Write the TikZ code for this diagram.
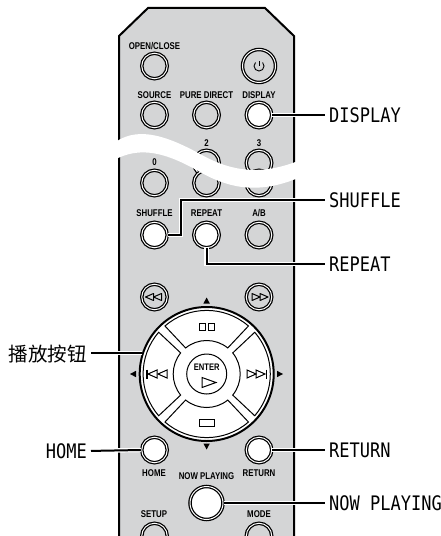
\documentclass[tikz,border=0pt]{standalone}
\usepackage{fontspec}
\usetikzlibrary{calc}
\setmainfont{Liberation Sans}
\newfontfamily\btnf[FakeStretch=0.8]{Liberation Sans}
\newfontfamily\callf[FakeStretch=0.85]{DejaVu Sans Mono}
\newfontfamily\cjkf{Noto Sans CJK SC}
\definecolor{panel}{HTML}{D4D5D6}
\tikzset{
  btn/.style={circle,draw=black,line width=1.25bp,double=white,double distance=1bp,fill=panel,inner sep=0pt,minimum size=25.5bp},
  hot/.style={btn,fill=white},
  big/.style={btn,minimum size=33bp},
  lab/.style={font=\btnf\bfseries\fontsize{9.8bp}{10bp}\selectfont,inner sep=0pt,text=black},
  call/.style={font=\callf\fontsize{20bp}{20bp}\selectfont,inner sep=0pt,text=black,anchor=west},
  conn/.style={draw=black,line width=2bp,shorten >=4bp,preaction={draw=white,line width=4.4bp}},
  thin/.style={draw=black,line width=1bp,line join=miter},
  tip/.style={fill=black,draw=none},
  glyph/.style={draw=black,line width=1bp,fill=white}
}
\begin{document}
\begin{tikzpicture}[x=1bp,y=-1bp]
\useasboundingbox (0,0) rectangle (441,536);
\clip (0,0) rectangle (441,536);
\fill[white] (0,0) rectangle (441,536);
% body
\filldraw[fill=panel,draw=black,line width=2bp,line join=miter]
  (119,545) -- (119,36) -- (148,8) -- (265,8) -- (294,36) -- (294,545);
% buttons
\node[btn] (open) at (154.5,66) {};
\node[big] (power) at (259,66) {};
\node[btn] (source) at (154.5,115) {};
\node[btn] (pure) at (206.5,115) {};
\node[hot] (display) at (259,115) {};
\node[btn] (two) at (206.5,163) {};
\node[btn] (three) at (259,163) {};
\node[btn] (zero) at (154.5,183) {};
\node[btn] (one) at (206.5,183) {};
\node[btn] (six) at (259,183) {};
\node[hot] (shuffle) at (154.5,235) {};
\node[hot] (repeat) at (206.5,235) {};
\node[btn] (ab) at (259,235) {};
\node[btn] (rew) at (154.5,297) {};
\node[btn] (ffw) at (259,297) {};
\node[hot] (home) at (154.5,450) {};
\node[hot] (return) at (259,450) {};
\node[big,fill=white] (now) at (206.5,503) {};
\node[btn] (setup) at (154.5,536) {};
\node[btn] (mode) at (259,536) {};
% wave
\fill[white] (114,143) .. controls (135,128) and (160,132) .. (200,154)
  .. controls (225,168) and (255,178) .. (298,161)
  -- (298,178) .. controls (255,196) and (225,186) .. (200,172)
  .. controls (165,152) and (140,146) .. (114,160) -- cycle;
% labels
\node[lab] (lopen) at (154.5,46) {OPEN/CLOSE};
\node[lab] (lsource) at (154.5,95) {SOURCE};
\node[lab] (lpure) at (206.5,95) {PURE DIRECT};
\node[lab] (ldisplay) at (259,95) {DISPLAY};
\node[lab] (ltwo) at (206.5,143) {2};
\node[lab] (lthree) at (259,143) {3};
\node[lab] (lzero) at (154.5,162) {0};
\node[lab] (lshuffle) at (154.5,213) {SHUFFLE};
\node[lab] (lrepeat) at (206.5,213) {REPEAT};
\node[lab] (lab) at (259,213) {A/B};
\node[lab] (lhome) at (154,473) {HOME};
\node[lab] (lnow) at (206.5,476) {NOW PLAYING};
\node[lab] (lreturn) at (259,473) {RETURN};
\node[lab] (lsetup) at (154,514.5) {SETUP};
\node[lab] (lmode) at (259,514.5) {MODE};
% power icon
\draw[line width=1bp] (259,61) -- (259,66.5);
\draw[line width=.9bp] (255.5,62.5) arc[start angle=225,end angle=-45,radius=5];
% rewind / forward icons
\foreach \s/\c in {-1/259,1/154.5}{
  \begin{scope}[shift={(\c,297)},xscale=\s]
    \draw[glyph,fill=none,line join=round] (-1,-3.5) -- (-9,0) -- (-1,3.5) -- cycle;
    \draw[glyph,fill=none,line join=round] (7,-3.5) -- (-1,0) -- (7,3.5) -- cycle;
  \end{scope}
}
% d-pad
\node[circle,draw=black,fill=white,line width=2bp,minimum size=134bp,inner sep=0pt] (pad) at (206.7,374) {};
\foreach \r in {0,90,180,270}{
  \draw[thin,rotate around={\r:(206.7,374)}]
    ($(206.7,374)+(49:63.6)$) arc[start angle=49,end angle=131,radius=63.6]
    -- ($(206.7,374)+(129:33.5)$) arc[start angle=129,end angle=51,radius=33.5] -- cycle;
}
\node[circle,draw=black,fill=white,line width=1bp,minimum size=40bp,inner sep=0pt] (enter) at (206.7,374) {};
\node[lab,font=\btnf\bfseries\fontsize{9.5bp}{10bp}\selectfont] (lenter) at (206.7,367) {ENTER};
\draw[glyph,line join=miter] (202,377.5) -- (216,382.5) -- (202,387.5) -- cycle;
% pad icons
\draw[glyph] (199,323) rectangle (205,330);
\draw[glyph] (208,323) rectangle (214,330);
\draw[glyph] (199,419) rectangle (214,426);
\draw[line width=1.3bp] (147,369.5) -- (147,378.5);
\draw[glyph,fill=none] (157,370) -- (148,374) -- (157,378) -- cycle;
\draw[glyph,fill=none] (167,370) -- (158,374) -- (167,378) -- cycle;
\draw[line width=1.3bp] (266.5,369.5) -- (266.5,378.5);
\draw[glyph,fill=none] (256,370) -- (265,374) -- (256,378) -- cycle;
\draw[glyph,fill=none] (247,370) -- (256,374) -- (247,378) -- cycle;
% direction tips
\fill[tip] (206.6,297.5) -- (203.4,303.5) -- (209.8,303.5) -- cycle;
\fill[tip] (206.6,449.5) -- (203.4,443.5) -- (209.8,443.5) -- cycle;
\fill[tip] (130,374) -- (136,370.8) -- (136,377.2) -- cycle;
\fill[tip] (283,374) -- (277,370.8) -- (277,377.2) -- cycle;
% callout labels
\node[call] (cdisplay) at (329,115) {DISPLAY};
\node[call] (cshuffle) at (329,200) {SHUFFLE};
\node[call] (crepeat) at (329,264) {REPEAT};
\node[call] (creturn) at (329,450) {RETURN};
\node[call] (cnow) at (329,503) {NOW PLAYING};
\node[call,anchor=east] (chome) at (87,451) {HOME};
\node[font=\cjkf\fontsize{19.5bp}{19.5bp}\selectfont,inner sep=0pt,anchor=east] (cplay) at (87,354) {播放按钮};
% connectors
\coordinate (kshuffle) at (181,235);
\coordinate (kshuffleb) at (181,200);
\coordinate (krepeat) at (206.5,264);
\coordinate (pplay) at (142,353);
\draw[conn] (display.east) -- (cdisplay.west) ;
\draw[conn,line join=miter] (shuffle.east) -- (kshuffle) -- (kshuffleb) -- (cshuffle.west);
\draw[conn,line join=miter] (repeat.south) -- (krepeat) -- (crepeat.west);
\draw[conn] (return.east) -- (creturn.west);
\draw[conn] (now.east) -- (cnow.west);
\draw[conn] (home.west) -- (chome.east);
\draw[conn] (pplay) -- (pplay-|cplay.east);
\end{tikzpicture}
\end{document}
